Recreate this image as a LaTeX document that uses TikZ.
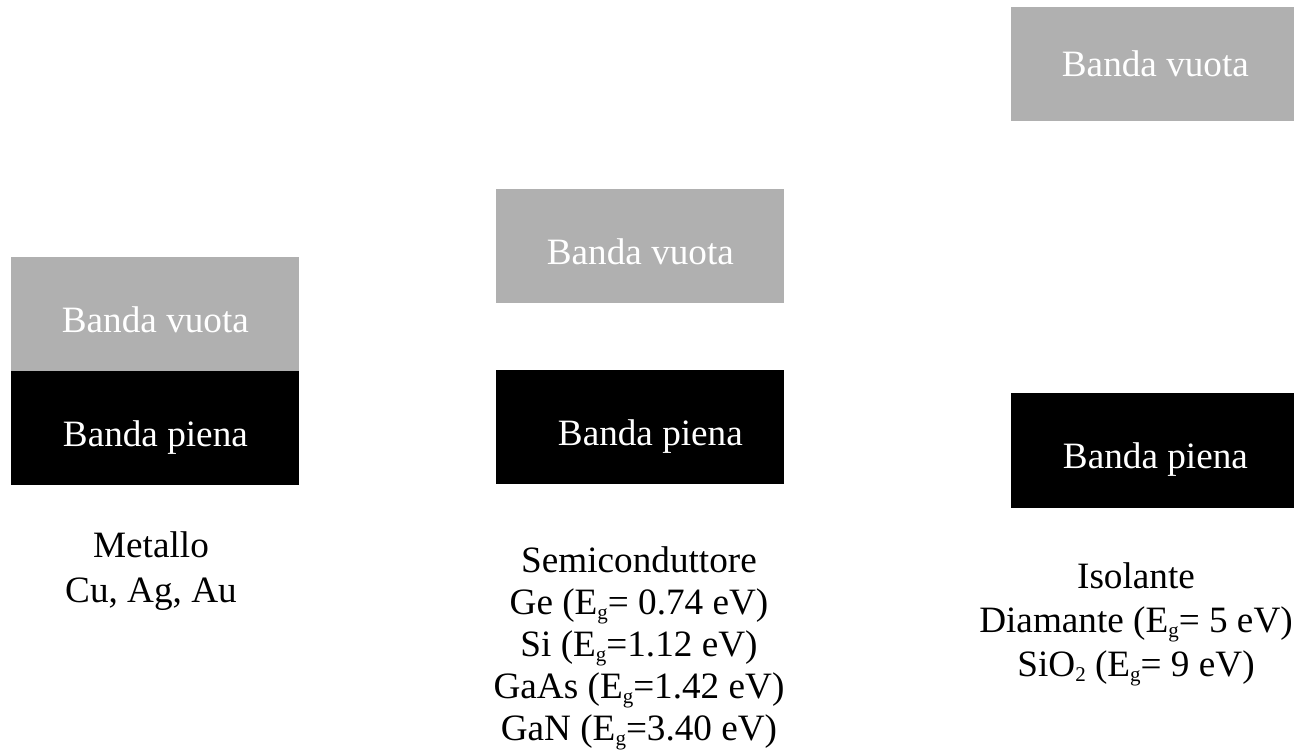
\documentclass[tikz,border=0pt]{standalone}
\usepackage{fontspec}
\setmainfont{Liberation Serif}
\definecolor{grigiovuota}{HTML}{B0B0B0}
\newcommand{\pedice}[1]{\raisebox{-0.3ex}{\fontsize{10.5}{10.5}\selectfont #1}}
\tikzset{
  bandavuota/.style={fill=grigiovuota, text=white, minimum width=144pt, minimum height=57pt,
    inner sep=0pt, anchor=north west, text height=18pt, text depth=0pt,
    font=\fontsize{18.6}{21}\selectfont},
  bandapiena/.style={bandavuota, fill=black},
  didascalia/.style={align=center, inner sep=0pt, anchor=base,
    font=\fontsize{18.6}{21}\selectfont}
}

\begin{document}
\begin{tikzpicture}[x=0.5pt, y=-0.5pt]
                \useasboundingbox (0, 0) rectangle (1294, 752);
                % Metallo
                \node [bandavuota] (metvuota) at (11, 257) {Banda vuota};
                \node [bandapiena] (metpiena) at (11, 371) {Banda piena};
                \node [didascalia, font=\fontsize{18.6}{22.5}\selectfont] (metnome) at (151, 602)
                    {Metallo\\Cu, Ag, Au};
                % Semiconduttore
                \node [bandavuota] (semvuota) at (496, 189) {Banda vuota};
                \node [bandapiena] (sempiena) at (496, 370) {\hspace*{10pt}Banda piena};
                \node [didascalia] (semnome) at (639, 740)
                    {Semiconduttore\\Ge (E\pedice{g}= 0.74 eV)\\Si (E\pedice{g}=1.12 eV)\\GaAs (E\pedice{g}=1.42 eV)\\GaN (E\pedice{g}=3.40 eV)};
                % Isolante
                \node [bandavuota, text height=12.5pt] (isovuota) at (1011, 7) {Banda vuota};
                \node [bandapiena, minimum height=57.5pt] (isopiena) at (1011, 393) {Banda piena};
                \node [didascalia, font=\fontsize{18.6}{22}\selectfont] (isonome) at (1136, 676)
                    {Isolante\\Diamante (E\pedice{g}= 5 eV)\\SiO\pedice{2} (E\pedice{g}= 9 eV)};
            \end{tikzpicture}
\end{document}
